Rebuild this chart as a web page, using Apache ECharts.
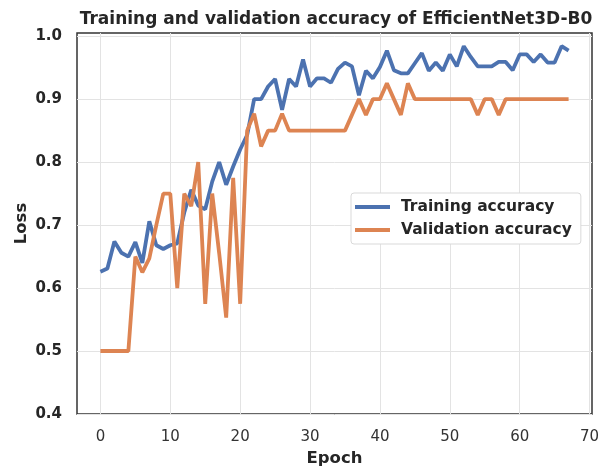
<!DOCTYPE html>
<html>
<head>
<meta charset="utf-8">
<script src="https://cdn.jsdelivr.net/npm/echarts@6/dist/echarts.min.js"></script>
<style>html,body{margin:0;padding:0;background:#fff;}#c{width:605px;height:467px;}</style>
</head>
<body>
<div id="c"></div>
<script>
const titleText = "Training and validation accuracy of EfficientNet3D-B0";
const xTicks = [0, 10, 20, 30, 40, 50, 60, 70];
const yTicks = [0.4, 0.5, 0.6, 0.7, 0.8, 0.9, 1.0];
const trainAcc = [0.626,0.631,0.674,0.656,0.650,0.673,0.640,0.706,0.668,0.662,0.668,0.671,
  0.720,0.756,0.731,0.725,0.769,0.800,0.764,0.793,0.820,0.843,0.900,0.900,
  0.920,0.932,0.883,0.932,0.920,0.963,0.920,0.933,0.933,0.926,0.948,0.958,
  0.952,0.906,0.945,0.933,0.951,0.977,0.946,0.941,0.941,0.957,0.973,0.945,
  0.958,0.945,0.971,0.952,0.984,0.967,0.952,0.952,0.952,0.959,0.959,0.946,
  0.971,0.971,0.959,0.971,0.958,0.958,0.984,0.977];
const valAcc = [0.5,0.5,0.5,0.5,0.5,0.65,0.625,0.647,0.70,0.75,0.75,0.60,
  0.75,0.73,0.80,0.575,0.75,0.655,0.553,0.775,0.575,0.85,0.877,0.825,
  0.85,0.85,0.877,0.85,0.85,0.85,0.85,0.85,0.85,0.85,0.85,0.85,
  0.875,0.90,0.875,0.90,0.90,0.925,0.90,0.875,0.925,0.90,
  0.90,0.90,0.90,0.90,0.90,0.90,0.90,0.90,
  0.875,0.90,0.90,0.875,
  0.90,0.90,0.90,0.90,0.90,0.90,0.90,0.90,0.90,0.90];
const epochs = trainAcc.map((_, i) => i);

const chart = echarts.init(document.getElementById('c'), null, {renderer: 'canvas'});
const font = '"DejaVu Sans", sans-serif';
chart.setOption({
  animation: false,
  backgroundColor: '#ffffff',
  title: {
    text: titleText, left: 331, top: 6, textAlign: 'center',
    textStyle: {fontFamily: font, fontSize: 17, fontWeight: 'bold', color: '#262626'}
  },
  grid: {left: 77, right: 13, top: 33, bottom: 53, show: true, borderColor: '#333333', borderWidth: 1.5,
    containLabel: false, outerBoundsMode: 'none'},
  legend: {
    orient: 'vertical', left: 351, top: 193,
    data: ['Training accuracy', 'Validation accuracy'],
    icon: 'rect', itemWidth: 35, itemHeight: 4, itemGap: 7,
    padding: [6, 9, 6, 4],
    backgroundColor: '#ffffff', borderColor: '#d9d9d9', borderWidth: 1, borderRadius: 3,
    textStyle: {fontFamily: font, fontSize: 15.5, fontWeight: 'bold', color: '#262626', padding: [0, 0, 0, 6]}
  },
  xAxis: {
    type: 'value', min: -3.35, max: 70.35,
    name: 'Epoch', nameLocation: 'middle', nameGap: 36,
    nameTextStyle: {fontFamily: font, fontSize: 16.5, fontWeight: 'bold', color: '#262626'},
    axisLine: {show: false},
    axisTick: {show: false, customValues: xTicks},
    axisLabel: {customValues: xTicks, fontFamily: font, fontSize: 15, color: '#333333', margin: 16},
    splitLine: {show: true, lineStyle: {color: '#e3e3e3', width: 1}}
  },
  yAxis: {
    type: 'value', min: 0.4, max: 1.005,
    name: 'Loss', nameLocation: 'middle', nameGap: 47, nameMoveOverlap: false,
    nameTextStyle: {fontFamily: font, fontSize: 16.5, fontWeight: 'bold', color: '#262626'},
    axisLine: {show: false},
    axisTick: {show: false, customValues: yTicks},
    axisLabel: {customValues: yTicks, fontFamily: font, fontSize: 15, fontWeight: 'bold', color: '#262626', margin: 15,
      formatter: v => v.toFixed(1)},
    splitLine: {show: true, lineStyle: {color: '#e3e3e3', width: 1}}
  },
  series: [
    {name: 'Training accuracy', type: 'line', data: epochs.map(i => [i, trainAcc[i]]),
     showSymbol: false, symbol: 'none', lineStyle: {color: '#4c72b0', width: 3.8}, itemStyle: {color: '#4c72b0'}, z: 3},
    {name: 'Validation accuracy', type: 'line', data: epochs.map(i => [i, valAcc[i]]),
     showSymbol: false, symbol: 'none', lineStyle: {color: '#dd8452', width: 3.8}, itemStyle: {color: '#dd8452'}, z: 4}
  ]
});
</script>
</body>
</html>
